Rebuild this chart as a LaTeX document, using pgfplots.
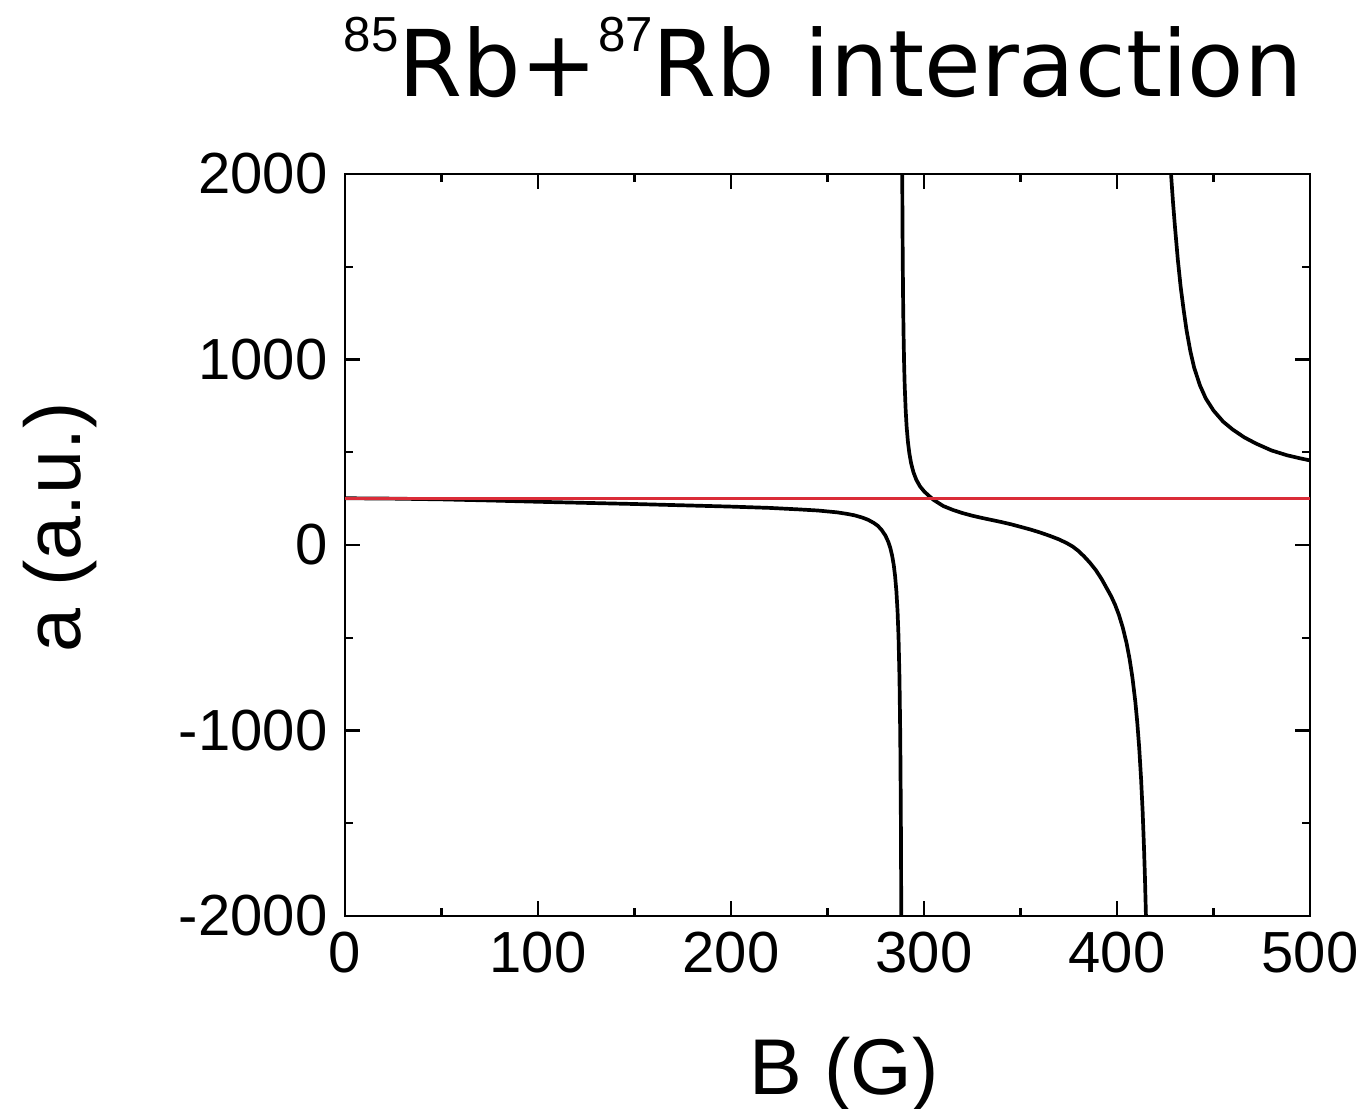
\documentclass[border=0pt]{standalone}
\usepackage{fontspec}
\setmainfont{Liberation Sans}
\newfontfamily\titlefont{DejaVu Sans}
\usepackage{pgfplots}
\pgfplotsset{compat=1.18}
\definecolor{refline}{RGB}{218,44,56}

\begin{document}
\begin{tikzpicture}
\useasboundingbox (-3.45,-1.93) rectangle (10.18,9.16);
\begin{axis}[
  scale only axis,
  width=9.65cm, height=7.42cm,
  xmin=0, xmax=500, ymin=-2000, ymax=2000,
  xtick={0,100,...,500}, ytick={-2000,-1000,...,2000},
  minor x tick num=1, minor y tick num=1,
  tick align=inside, xtick pos=both, ytick pos=both,
  major tick length=0.15cm, minor tick length=0.08cm,
  every tick/.style={black, line width=0.7pt},
  axis line style={black, line width=0.7pt},
  /pgf/number format/assume math mode=true,
  /pgf/number format/1000 sep={},
  ticklabel style={font=\fontsize{16.5}{16.5}\selectfont},
  xticklabel style={yshift=-1pt},
  yticklabel style={xshift=-1.5pt},
  xlabel={B (G)}, ylabel={a (a.u.)},
  label style={font=\fontsize{22.5}{22.5}\selectfont},
  xlabel style={at={(axis description cs:0.5171,-0.2399)}, anchor=base, inner sep=0pt},
  ylabel style={at={(axis description cs:-0.2746,0.5243)}, anchor=base, inner sep=0pt},
]
% branch below the first resonance
\addplot[black, line width=1.05pt] coordinates {
  (0,252) (25,250) (50,246) (75,240) (100,233) (125,227) (150,221) (175,214)
  (200,207) (220,200) (235,192) (245,186) (250,181) (255,176) (260,168)
  (264,160) (268,148) (271,136) (274,119) (276,104) (278,82) (280,51)
  (281.5,17) (282.5,-14) (283.5,-58) (284.3,-106) (285,-165) (285.7,-249)
  (286.3,-357) (286.8,-494) (287.3,-717) (287.7,-1030) (288.0,-1447)
  (288.1,-1655) (288.22,-2000)
};
% branch between the two resonances
\addplot[black, line width=1.05pt] coordinates {
  (288.73,2000) (288.8,1850) (288.9,1667) (289.0,1520) (289.2,1300)
  (289.4,1143) (289.7,976) (290.0,860) (290.5,728) (291,638) (291.7,553)
  (292.4,495) (293.3,442) (294.5,393) (296,352) (298,315) (300,290)
  (302,270) (305,243) (310,210) (315,189) (320,172) (325,158) (330,146)
  (335,135) (340,124) (345,112) (350,98) (355,84) (360,68) (365,50)
  (370,30) (374,10) (377,-8) (380,-32) (383,-62) (386,-96) (389,-135)
  (392,-183) (395,-239) (397,-277) (399,-322) (401,-377) (403,-445)
  (405,-531) (406.5,-613) (408,-715) (409.5,-845) (410.5,-956)
  (411.5,-1092) (412.5,-1265) (413.3,-1440) (414,-1635) (414.5,-1799)
  (415,-2000)
};
% branch above the second resonance
\addplot[black, line width=1.05pt] coordinates {
  (428,2000) (429,1850) (430,1720) (431.5,1540) (433,1390) (434.5,1270)
  (436,1160) (438,1045) (440,955) (443,860) (446,790) (450,725) (455,665)
  (460,622) (466,580) (472,547) (480,510) (488,484) (495,467) (500,456)
};
% background value
\addplot[refline, line width=0.95pt] coordinates {(0,250) (500,250)};
\end{axis}
% title line
\node[anchor=base west, inner sep=0pt] at (-0.02,8.19)
  {\titlefont\fontsize{26.2}{26.2}\selectfont\raisebox{12.8pt}{\rmfamily\fontsize{14}{14}\selectfont 85}Rb+\raisebox{12.8pt}{\rmfamily\fontsize{14}{14}\selectfont 87}Rb interaction};
\end{tikzpicture}
\end{document}
